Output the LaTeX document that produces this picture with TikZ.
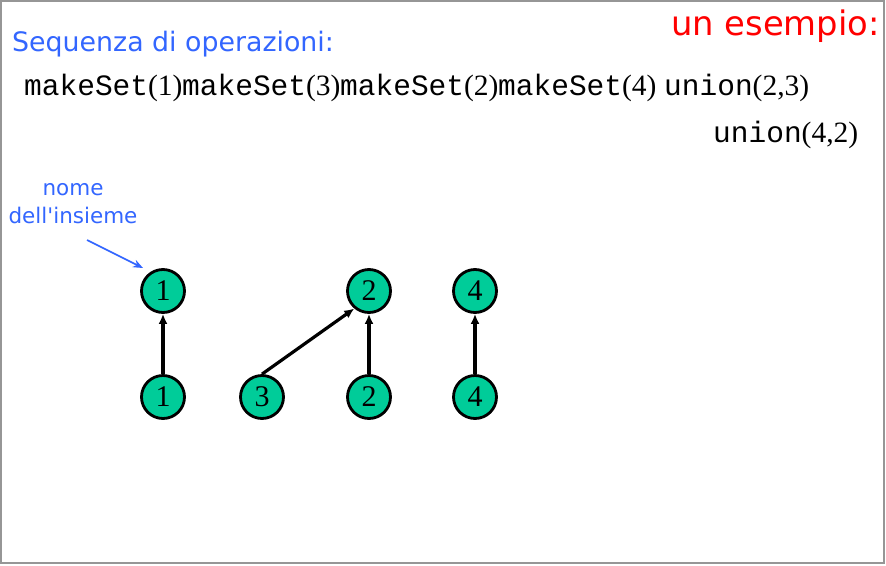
\documentclass[tikz,border=0pt]{standalone}
\usepackage{fontspec}
\setmainfont{Liberation Serif}
\newfontfamily\handfont{DejaVu Sans}
\newfontfamily\codefont{Liberation Mono}
\usetikzlibrary{arrows.meta}
\definecolor{setgreen}{RGB}{0,204,153}
\definecolor{noteblue}{RGB}{51,102,255}
\definecolor{framegray}{RGB}{150,150,150}
\tikzset{
  elem/.style={circle, draw=black, line width=2.8pt, fill=setgreen, minimum size=43pt, inner sep=0pt, font=\fontsize{30}{30}\selectfont},
  parent/.style={line width=3.2pt, -{Latex[length=10pt,width=9pt]}},
  op/.style={anchor=base west, inner sep=0pt, font=\fontsize{29.5}{30}\selectfont},
}
\newcommand{\opname}[1]{{\codefont #1}}
\begin{document}
\begin{tikzpicture}[x=1pt,y=-1pt]
\useasboundingbox (0,0) rectangle (886,565);
\draw[framegray, line width=1.2pt] (1,1) rectangle (884,563);

% titles
\node[anchor=base west, inner sep=0pt, text=noteblue, font=\handfont\fontsize{26.8}{28}\selectfont] (title) at (12,51) {Sequenza di operazioni:};
\node[anchor=base east, inner sep=0pt, text=red, font=\handfont\fontsize{33.8}{36}\selectfont] (example) at (880,35) {un esempio:};

% operations
\node[op] (op1) at (24,95) {\opname{makeSet}(1)};
\node[op] (op2) at (182,95) {\opname{makeSet}(3)};
\node[op] (op3) at (340,95) {\opname{makeSet}(2)};
\node[op] (op4) at (498,95) {\opname{makeSet}(4)};
\node[op] (op5) at (664,95) {\opname{union}(2,3)};
\node[op] (op6) at (713,142) {\opname{union}(4,2)};

% note
\node[align=center, inner sep=0pt, text=noteblue, font=\handfont\fontsize{21.5}{28}\selectfont] (note) at (73,204) {nome\\dell'insieme};
\coordinate (noteS) at (87,240);
\coordinate (noteE) at (143,268);

% sets
\node[elem] (r1) at (163,291) {1};
\node[elem] (r2) at (369,291) {2};
\node[elem] (r4) at (475,291) {4};
\node[elem] (e1) at (163,397) {1};
\node[elem] (e3) at (262,397) {3};
\node[elem] (e2) at (369,397) {2};
\node[elem] (e4) at (475,397) {4};

\draw[parent] (e1) -- (r1);
\draw[parent] (e2) -- (r2);
\draw[parent] (e4) -- (r4);
\draw[parent] (e3.north) -- (r2.-130);
\draw[noteblue, line width=1.6pt, -{Stealth[length=10pt,width=8pt]}] (noteS) -- (noteE);
\end{tikzpicture}
\end{document}
